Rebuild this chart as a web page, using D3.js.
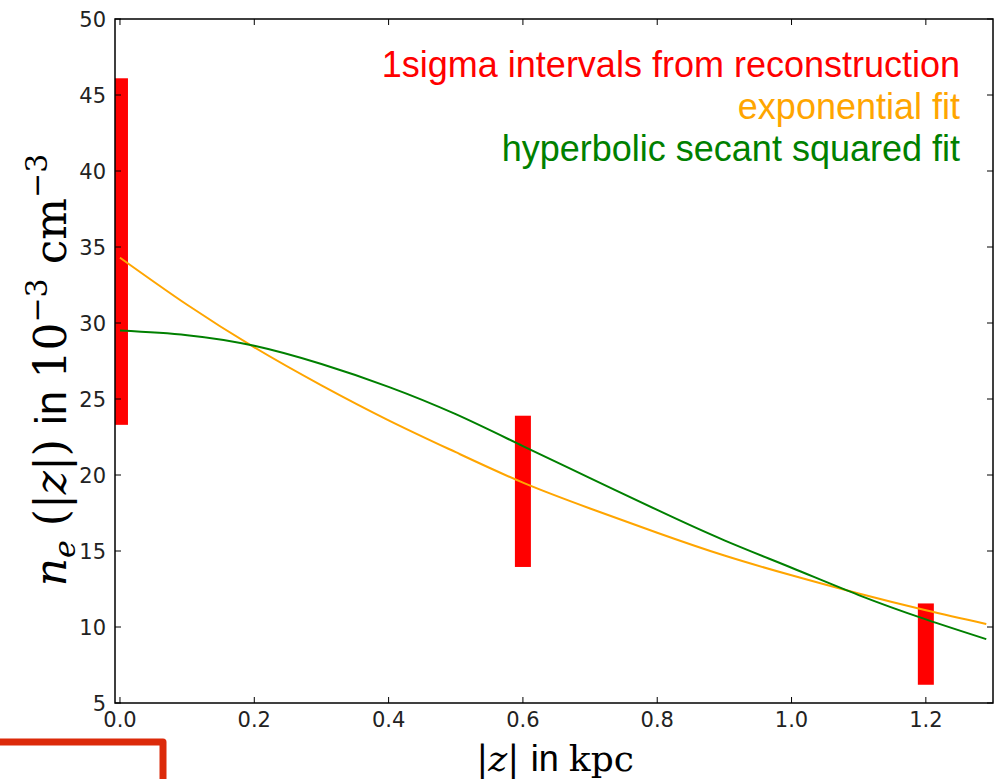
<!DOCTYPE html>
<html>
<meta charset="utf-8">
<style>
 body { margin: 0; background: #fff; }
 .tick_text {
   font-family: "DejaVu Sans", sans-serif;
   font-size: 21px;
   fill: #222;
 }
 .legend_text {
   font-family: "Liberation Sans", Arial, sans-serif;
   font-size: 36px;
 }
 .math { font-family: "DejaVu Serif", "Liberation Serif", serif; }
 .sans { font-family: "Liberation Sans", Arial, sans-serif; }
</style>
<body>
  <script src="https://cdnjs.cloudflare.com/ajax/libs/d3/7.8.5/d3.min.js"></script>
  <script>

var width = 1001
var height = 779

// data
var zValues = [0.0, 0.1, 0.2, 0.3, 0.4, 0.5, 0.6, 0.7, 0.8, 0.9, 1.0, 1.1, 1.2, 1.29];
var expFit = [34.3, 31.2, 28.4, 25.9, 23.6, 21.5, 19.5, 17.8, 16.2, 14.7, 13.4, 12.2, 11.1, 10.2];
var sechFit = [29.5, 29.2, 28.5, 27.3, 25.8, 24.0, 21.9, 19.8, 17.7, 15.7, 13.9, 12.1, 10.5, 9.2];

var barZ = [0.0, 0.6, 1.2];
var barLow = [23.3, 13.95, 6.2];
var barHigh = [46.1, 23.9, 11.55];

var xTicks = [0.0, 0.2, 0.4, 0.6, 0.8, 1.0, 1.2];
var yTicks = [5, 10, 15, 20, 25, 30, 35, 40, 45, 50];

var legendLabels = ["1sigma intervals from reconstruction", "exponential fit", "hyperbolic secant squared fit"];
var legendColors = ["#ff0000", "#ffa500", "#008000"];

var pLeft = 115, pRight = 993, pTop = 19, pBottom = 703;

var svg = d3.select("body")
      .append("svg")
      .attr("width", width)
      .attr("height", height);

var x = d3.scaleLinear().domain([-0.0074, 1.3]).range([pLeft, pRight]);
var y = d3.scaleLinear().domain([5, 50]).range([pBottom, pTop]);

svg.append("clipPath").attr("id", "plotclip")
  .append("rect")
    .attr("x", pLeft).attr("y", pTop)
    .attr("width", pRight - pLeft).attr("height", pBottom - pTop);

var plot = svg.append("g").attr("clip-path", "url(#plotclip)");

// red 1 sigma bars
plot.selectAll(".bar")
  .data(barZ)
  .enter()
  .append("rect")
    .attr("class", "bar")
    .attr("x", function (d) { return x(d) - 8; })
    .attr("width", 16)
    .attr("y", function (d, i) { return y(barHigh[i]); })
    .attr("height", function (d, i) { return y(barLow[i]) - y(barHigh[i]); })
    .attr("fill", "#ff0000");

var line = d3.line()
  .x(function (d, i) { return x(zValues[i]); })
  .y(function (d) { return y(d); })
  .curve(d3.curveNatural);

plot.append("path")
  .attr("d", line(expFit))
  .attr("fill", "none")
  .attr("stroke", "#ffa500")
  .attr("stroke-width", 2);

plot.append("path")
  .attr("d", line(sechFit))
  .attr("fill", "none")
  .attr("stroke", "#008000")
  .attr("stroke-width", 2);

// frame
svg.append("rect")
  .attr("x", pLeft).attr("y", pTop)
  .attr("width", pRight - pLeft).attr("height", pBottom - pTop)
  .attr("fill", "none")
  .attr("stroke", "#000")
  .attr("stroke-width", 1.5);

// inward ticks on all four sides
var tickLen = 6;
var ticks = svg.append("g").attr("stroke", "#000").attr("stroke-width", 1);
xTicks.forEach(function (t) {
  ticks.append("line").attr("x1", x(t)).attr("x2", x(t)).attr("y1", pBottom).attr("y2", pBottom - tickLen);
  ticks.append("line").attr("x1", x(t)).attr("x2", x(t)).attr("y1", pTop).attr("y2", pTop + tickLen);
});
yTicks.forEach(function (t) {
  ticks.append("line").attr("x1", pLeft).attr("x2", pLeft + tickLen).attr("y1", y(t)).attr("y2", y(t));
  ticks.append("line").attr("x1", pRight).attr("x2", pRight - tickLen).attr("y1", y(t)).attr("y2", y(t));
});

svg.selectAll(".xtick")
  .data(xTicks)
  .enter()
  .append("text")
    .attr("class", "tick_text")
    .attr("text-anchor", "middle")
    .attr("x", function (d) { return x(d); })
    .attr("y", pBottom + 24)
    .text(function (d) { return d.toFixed(1); });

svg.selectAll(".ytick")
  .data(yTicks)
  .enter()
  .append("text")
    .attr("class", "tick_text")
    .attr("text-anchor", "end")
    .attr("x", pLeft - 9)
    .attr("y", function (d) { return y(d) + 8; })
    .text(function (d) { return d; });

// legend (text only, right aligned)
svg.selectAll(".legend_text")
  .data(legendLabels)
  .enter()
  .append("text")
    .attr("class", "legend_text")
    .attr("text-anchor", "end")
    .attr("x", 960)
    .attr("y", function (d, i) { return 77 + i * 42; })
    .attr("fill", function (d, i) { return legendColors[i]; })
    .text(function (d) { return d; });

// x label: |z| in kpc
var xl = svg.append("text")
  .attr("x", 555).attr("y", 771)
  .attr("text-anchor", "middle")
  .attr("font-size", 36);
xl.append("tspan").attr("class", "math").text("|");
xl.append("tspan").attr("class", "math").attr("font-style", "italic").text("z");
xl.append("tspan").attr("class", "math").text("| ");
xl.append("tspan").attr("class", "sans").text("in ");
xl.append("tspan").attr("class", "math").text("kpc");

// y label: n_e(|z|) in 10^-3 cm^-3
var yl = svg.append("text")
  .attr("transform", "translate(66," + 370 + ") rotate(-90)")
  .attr("text-anchor", "middle")
  .attr("font-size", 44);
yl.append("tspan").attr("class", "math").attr("font-style", "italic").text("n");
yl.append("tspan").attr("class", "math").attr("font-style", "italic").attr("font-size", 30).attr("dy", 9).text("e");
yl.append("tspan").attr("class", "math").attr("dy", -9).text(" (|");
yl.append("tspan").attr("class", "math").attr("font-style", "italic").text("z");
yl.append("tspan").attr("class", "math").text("|) ");
yl.append("tspan").attr("class", "sans").text("in ");
yl.append("tspan").attr("class", "math").text("10");
yl.append("tspan").attr("class", "math").attr("font-size", 30).attr("dy", -19).text("\u22123");
yl.append("tspan").attr("class", "math").attr("dy", 19).text(" cm");
yl.append("tspan").attr("class", "math").attr("font-size", 30).attr("dy", -19).text("\u22123");

// red frame in the bottom left corner
svg.append("path")
  .attr("d", "M -5 742 L 163 742 L 163 790")
  .attr("fill", "none")
  .attr("stroke", "#dc2a0a")
  .attr("stroke-width", 7)
  .attr("stroke-linejoin", "round");

  </script>
</body>
</html>
